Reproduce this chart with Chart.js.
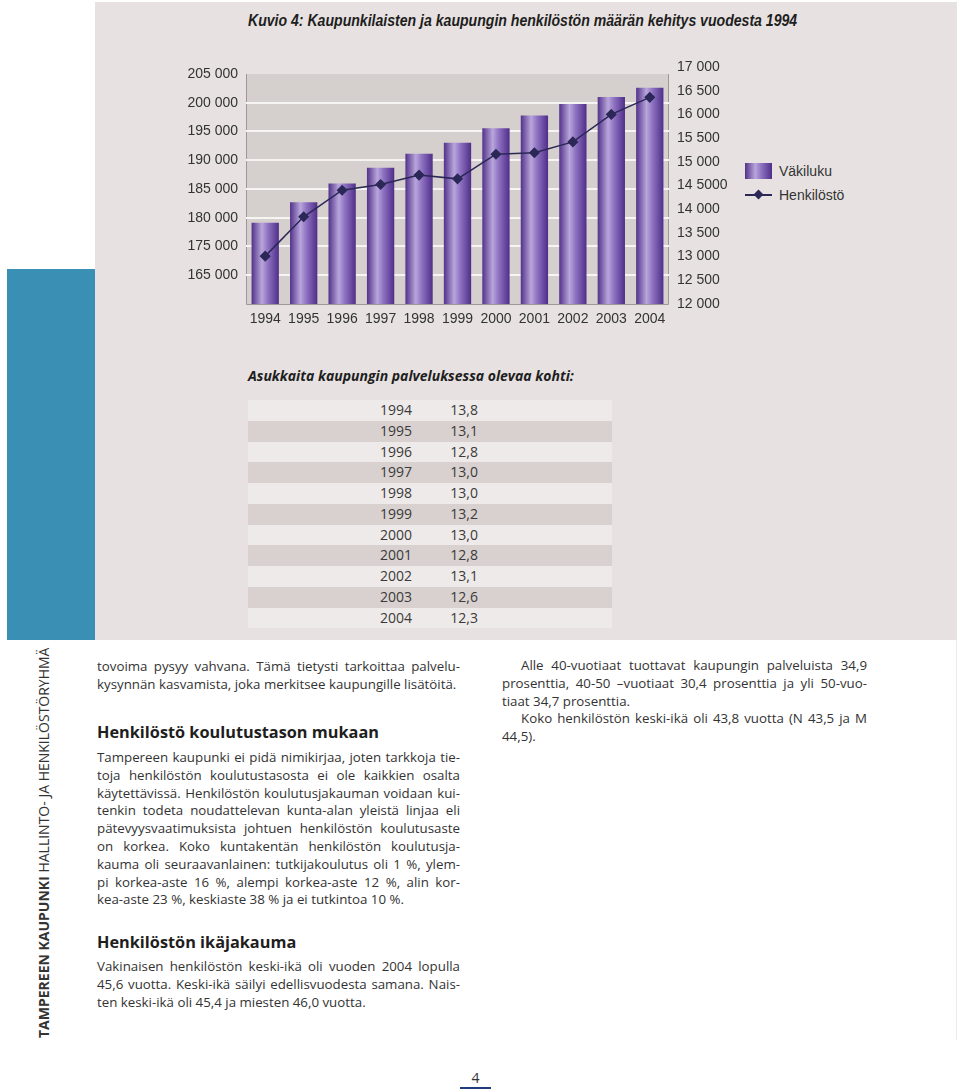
<!DOCTYPE html>
<html>
<head>
<meta charset="utf-8">
<script src="https://cdn.jsdelivr.net/npm/chart.js@4"></script>
<style>
  html, body { margin: 0; padding: 0; background: #fff; }
  body { width: 960px; height: 1092px; position: relative; overflow: hidden; font-family: 'Open Sans', 'Noto Sans', sans-serif; color: #2e2e2e; }
  .abs { position: absolute; }
  #panel { left: 95px; top: 2px; width: 862px; height: 638px; background: #e7e2e1; }
  #teal { left: 7px; top: 269px; width: 88px; height: 371px; background: #3a8fb4; }
  #title { left: 248px; top: 12px; font: italic bold 16px 'Liberation Sans', Arial, sans-serif; color: #1e1e1e; white-space: nowrap; transform-origin: 0 50%; }
  #chartWrap { left: 180px; top: 55px; width: 560px; height: 280px; }
  .leg { font: 14px 'Liberation Sans', Arial, sans-serif; color: #333; }
  #subtitle { left: 248px; top: 366px; font: italic bold 14px 'Open Sans', sans-serif; color: #1e1e1e; }
  #table { left: 248px; top: 400px; width: 364px; }
  .row { height: 20.75px; line-height: 20.75px; font-size: 14px; color: #3a3a3a; position: relative; }
  .row span { position: absolute; text-align: right; }
  .txt { font-size: 13.3px; line-height: 17.8px; color: #333; }
  .txt span { display: block; text-align: justify; text-align-last: justify; white-space: nowrap; }
  .txt span.l { text-align: left; text-align-last: left; }
  .txt span.ind { text-indent: 19px; }
  .head { font-size: 16.3px; font-weight: bold; color: #1e1e1e; line-height: 20px; }
  #side { left: 34px; top: 648px; height: 390px; writing-mode: vertical-rl; transform: rotate(180deg); font-size: 14px; color: #333; white-space: nowrap; text-align: left; }
</style>
</head>
<body>
<div id="panel" class="abs"></div>
<div id="teal" class="abs"></div>
<div id="title" class="abs">Kuvio 4: Kaupunkilaisten ja kaupungin henkilöstön määrän kehitys vuodesta 1994</div>

<div id="chartWrap" class="abs"><canvas id="chart" width="560" height="280"></canvas></div>

<div class="abs" style="left:745px;top:163px;width:27px;height:16px;background:linear-gradient(90deg,#52328a 0%,#b9a6db 38%,#8e72c2 60%,#4f2e88 100%);"></div>
<div class="abs leg" style="left:779px;top:162px;line-height:18px;">Väkiluku</div>
<div class="abs" style="left:745px;top:194px;width:27px;height:1.5px;background:#2b2857;"></div>
<div class="abs" style="left:755px;top:191px;width:7px;height:7px;background:#2b2857;transform:rotate(45deg);"></div>
<div class="abs leg" style="left:779px;top:186px;line-height:18px;">Henkilöstö</div>

<div id="subtitle" class="abs">Asukkaita kaupungin palveluksessa olevaa kohti:</div>
<div id="table" class="abs"></div>

<div id="side" class="abs"><b>TAMPEREEN KAUPUNKI</b> HALLINTO- JA HENKILÖSTÖRYHMÄ</div>

<div class="abs txt" style="left:97px;top:658px;width:363px;">
  <span>tovoima pysyy vahvana. Tämä tietysti tarkoittaa palvelu-</span>
  <span class="l">kysynnän kasvamista, joka merkitsee kaupungille lisätöitä.</span>
</div>
<div class="abs head" style="left:97px;top:722px;">Henkilöstö koulutustason mukaan</div>
<div class="abs txt" style="left:97px;top:749px;width:363px;">
  <span>Tampereen kaupunki ei pidä nimikirjaa, joten tarkkoja tie-</span>
  <span>toja henkilöstön koulutustasosta ei ole kaikkien osalta</span>
  <span>käytettävissä. Henkilöstön koulutusjakauman voidaan kui-</span>
  <span>tenkin todeta noudattelevan kunta-alan yleistä linjaa eli</span>
  <span>pätevyysvaatimuksista johtuen henkilöstön koulutusaste</span>
  <span>on korkea. Koko kuntakentän henkilöstön koulutusja-</span>
  <span>kauma oli seuraavanlainen: tutkijakoulutus oli 1 %, ylem-</span>
  <span>pi korkea-aste 16 %, alempi korkea-aste 12 %, alin kor-</span>
  <span class="l">kea-aste 23 %, keskiaste 38 % ja ei tutkintoa 10 %.</span>
</div>
<div class="abs head" style="left:97px;top:932px;">Henkilöstön ikäjakauma</div>
<div class="abs txt" style="left:97px;top:958px;width:363px;">
  <span>Vakinaisen henkilöstön keski-ikä oli vuoden 2004 lopulla</span>
  <span>45,6 vuotta. Keski-ikä säilyi edellisvuodesta samana. Nais-</span>
  <span class="l">ten keski-ikä oli 45,4 ja miesten 46,0 vuotta.</span>
</div>

<div class="abs txt" style="left:502px;top:657px;width:365px;">
  <span class="ind">Alle 40-vuotiaat tuottavat kaupungin palveluista 34,9</span>
  <span>prosenttia, 40-50 –vuotiaat 30,4 prosenttia ja yli 50-vuo-</span>
  <span class="l">tiaat 34,7 prosenttia.</span>
  <span class="ind">Koko henkilöstön keski-ikä oli 43,8 vuotta (N 43,5 ja M</span>
  <span class="l">44,5).</span>
</div>

<div class="abs" style="left:956px;top:640px;width:1px;height:400px;background:#ebebeb;"></div>
<div class="abs" style="left:460px;top:1068px;width:31px;text-align:center;font-size:14px;color:#333;">4</div>
<div class="abs" style="left:460px;top:1087px;width:31px;height:2px;background:#1f3c7c;"></div>

<script>
// Data
const years = ['1994', '1995', '1996', '1997', '1998', '1999', '2000', '2001', '2002', '2003', '2004'];
const population = [179150, 182700, 185950, 188700, 191150, 193050, 195550, 197800, 199800, 201000, 202600];
const staff = [13010, 13840, 14400, 14520, 14720, 14640, 15160, 15190, 15420, 16000, 16360];
const perStaff = [13.8, 13.1, 12.8, 13.0, 13.0, 13.2, 13.0, 12.8, 13.1, 12.6, 12.3];

// Tick values and labels exactly as printed (the original labels the 170 000 line "165 000")
const leftTicks = [205000, 200000, 195000, 190000, 185000, 180000, 175000, 170000, 165000];
const leftTickLabels = ['205 000', '200 000', '195 000', '190 000', '185 000', '180 000', '175 000', '165 000', ''];
const rightTickLabels = ['17 000', '16 500', '16 000', '15 500', '15 000', '14 5000', '14 000', '13 500', '13 000', '12 500', '12 000'];

const tickFont = { family: "'Liberation Sans', Arial, sans-serif", size: 14 };
const barPct = 0.71;

// squeeze the title to the condensed width of the original
const title = document.getElementById('title');
title.style.transform = 'scaleX(' + (549 / title.offsetWidth) + ')';

// Table below the chart
const table = document.getElementById('table');
years.forEach((y, i) => {
    const row = document.createElement('div');
    row.className = 'row';
    row.style.background = i % 2 ? '#d8d1cf' : '#eeeae9';
    row.innerHTML = '<span style="right:200px">' + y + '</span><span style="right:134px">' +
        perStaff[i].toFixed(1).replace('.', ',') + '</span>';
    table.appendChild(row);
});

// Plot background + frame, starting at the 205 000 line
const plotFrame = {
    id: 'plotFrame',
    beforeDraw(chart) {
        const { ctx, chartArea } = chart;
        const top = Math.round(chart.scales.y.getPixelForValue(205000));
        ctx.save();
        ctx.fillStyle = '#d5cfcd';
        ctx.fillRect(chartArea.left, top, chartArea.right - chartArea.left, chartArea.bottom - top);
        ctx.strokeStyle = '#9d9896';
        ctx.lineWidth = 1;
        ctx.beginPath();
        ctx.moveTo(chartArea.left + 0.5, top);
        ctx.lineTo(chartArea.left + 0.5, chartArea.bottom + 0.5);
        ctx.lineTo(chartArea.right - 0.5, chartArea.bottom + 0.5);
        ctx.lineTo(chartArea.right - 0.5, top);
        ctx.stroke();
        ctx.restore();
    }
};

function barGradient(context) {
    const chart = context.chart;
    const area = chart.chartArea;
    if (!area) return '#7a5cb0';
    const cx = chart.scales.x.getPixelForValue(context.dataIndex);
    const w = (area.right - area.left) / years.length * barPct;
    const g = chart.ctx.createLinearGradient(cx - w / 2, 0, cx + w / 2, 0);
    g.addColorStop(0, '#52328a');
    g.addColorStop(0.38, '#b9a6db');
    g.addColorStop(0.6, '#8e72c2');
    g.addColorStop(1, '#4f2e88');
    return g;
}

new Chart(document.getElementById('chart'), {
    data: {
        labels: years,
        datasets: [
            {
                type: 'line',
                label: 'Henkilöstö',
                data: staff,
                yAxisID: 'y1',
                borderColor: '#2b2857',
                backgroundColor: '#2b2857',
                borderWidth: 1.5,
                pointStyle: 'rectRot',
                pointRadius: 4.5,
                tension: 0,
                order: 0
            },
            {
                type: 'bar',
                label: 'Väkiluku',
                data: population,
                yAxisID: 'y',
                backgroundColor: barGradient,
                barPercentage: barPct,
                categoryPercentage: 1,
                order: 1
            }
        ]
    },
    options: {
        responsive: false,
        animation: false,
        layout: { padding: { top: 12, left: 0, right: 0, bottom: 0 } },
        plugins: {
            legend: { display: false },
            tooltip: { enabled: false }
        },
        scales: {
            x: {
                grid: { display: false, drawTicks: false },
                border: { display: false },
                ticks: { color: '#333', font: tickFont, padding: 7, maxRotation: 0, autoSkip: false },
                afterFit: s => { s.height = 31; s.paddingLeft = 0; s.paddingRight = 0; }
            },
            y: {
                position: 'left',
                min: 165000,
                max: 206217,
                bounds: 'data',
                border: { display: false },
                grid: {
                    drawTicks: false,
                    lineWidth: 2,
                    color: c => (c.tick && c.tick.value >= 170000 && c.tick.value <= 200000) ? '#f7f5f4' : 'rgba(0,0,0,0)'
                },
                ticks: {
                    padding: 8,
                    color: '#333',
                    font: tickFont,
                    callback: v => leftTickLabels[leftTicks.indexOf(v)] || ''
                },
                afterBuildTicks: s => { s.ticks = leftTicks.map(v => ({ value: v })); },
                afterFit: s => { s.width = 66; s.paddingTop = 0; s.paddingBottom = 0; }
            },
            y1: {
                position: 'right',
                min: 12000,
                max: 17000,
                bounds: 'data',
                border: { display: false },
                grid: { display: false, drawTicks: false },
                ticks: {
                    stepSize: 500,
                    padding: 8,
                    color: '#333',
                    font: tickFont,
                    callback: v => rightTickLabels[Math.round((17000 - v) / 500)] || ''
                },
                afterFit: s => { s.width = 71; s.paddingTop = 0; s.paddingBottom = 0; }
            }
        }
    },
    plugins: [plotFrame]
});
</script>
</body>
</html>
